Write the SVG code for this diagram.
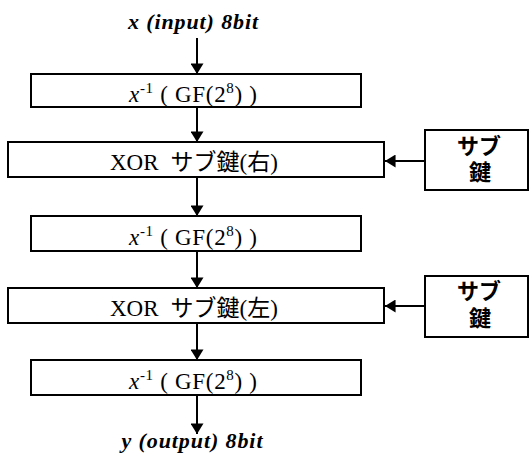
<svg xmlns="http://www.w3.org/2000/svg" width="530" height="455" viewBox="0 0 530 455">
<style>
.box{fill:#fff;stroke:#000;stroke-width:2}
.t{font-family:"Liberation Serif","Noto Sans CJK JP",serif;font-size:23px;fill:#000}
.io{font-family:"Liberation Serif",serif;font-size:22px;font-weight:bold;font-style:italic;fill:#000}
.k{font-family:"Liberation Serif","Noto Sans CJK JP",serif;font-size:22px;font-weight:bold;fill:#000}
.c{stroke:#000;stroke-width:2;fill:none}
.sup{font-size:15px}
</style>
<defs>
<marker id="ah" markerUnits="userSpaceOnUse" markerWidth="16" markerHeight="13" refX="13" refY="8" orient="auto" viewBox="0 0 16 16">
<path d="M0,0 L13,8 L0,16 z" fill="#000"/>
</marker>
</defs>
<g id="connectors">
<line class="c" x1="197" y1="38" x2="197" y2="74" marker-end="url(#ah)"/>
<line class="c" x1="197" y1="107" x2="197" y2="142" marker-end="url(#ah)"/>
<line class="c" x1="197" y1="177" x2="197" y2="216" marker-end="url(#ah)"/>
<line class="c" x1="197" y1="251" x2="197" y2="288" marker-end="url(#ah)"/>
<line class="c" x1="197" y1="323" x2="197" y2="360" marker-end="url(#ah)"/>
<line class="c" x1="197" y1="395" x2="197" y2="434" marker-end="url(#ah)"/>
<line class="c" x1="425" y1="161" x2="385" y2="161" marker-end="url(#ah)"/>
<line class="c" x1="425" y1="306" x2="385" y2="306" marker-end="url(#ah)"/>
</g>
<g id="input"><text class="io" x="193" y="29" text-anchor="middle" textLength="130" lengthAdjust="spacing">x (input) 8bit</text></g>
<g id="inv1">
<rect class="box" x="31" y="74" width="330" height="33"/>
<text class="t" x="129" y="102" textLength="128" lengthAdjust="spacing"><tspan font-style="italic">x</tspan><tspan class="sup" dy="-9">-1</tspan><tspan dy="9"> ( GF(2</tspan><tspan class="sup" dy="-9">8</tspan><tspan dy="9">) )</tspan></text>
</g>
<g id="xor1">
<rect class="box" x="8" y="142" width="376" height="35"/>
<text class="t" x="110" y="170">XOR<tspan dx="12">サブ鍵(右)</tspan></text>
</g>
<g id="key1">
<rect class="box" x="425" y="130" width="103" height="60"/>
<text class="k" x="479" y="154" text-anchor="middle">サブ</text>
<text class="k" x="480" y="180" text-anchor="middle">鍵</text>
</g>
<g id="inv2">
<rect class="box" x="31" y="216" width="330" height="35"/>
<text class="t" x="129" y="245" textLength="128" lengthAdjust="spacing"><tspan font-style="italic">x</tspan><tspan class="sup" dy="-9">-1</tspan><tspan dy="9"> ( GF(2</tspan><tspan class="sup" dy="-9">8</tspan><tspan dy="9">) )</tspan></text>
</g>
<g id="xor2">
<rect class="box" x="8" y="288" width="376" height="35"/>
<text class="t" x="110" y="316">XOR<tspan dx="12">サブ鍵(左)</tspan></text>
</g>
<g id="key2">
<rect class="box" x="425" y="276" width="103" height="61"/>
<text class="k" x="479" y="299" text-anchor="middle">サブ</text>
<text class="k" x="480" y="326" text-anchor="middle">鍵</text>
</g>
<g id="inv3">
<rect class="box" x="31" y="360" width="330" height="35"/>
<text class="t" x="129" y="389" textLength="128" lengthAdjust="spacing"><tspan font-style="italic">x</tspan><tspan class="sup" dy="-9">-1</tspan><tspan dy="9"> ( GF(2</tspan><tspan class="sup" dy="-9">8</tspan><tspan dy="9">) )</tspan></text>
</g>
<g id="output"><text class="io" x="192" y="448" text-anchor="middle" textLength="141" lengthAdjust="spacing">y (output) 8bit</text></g>
</svg>
